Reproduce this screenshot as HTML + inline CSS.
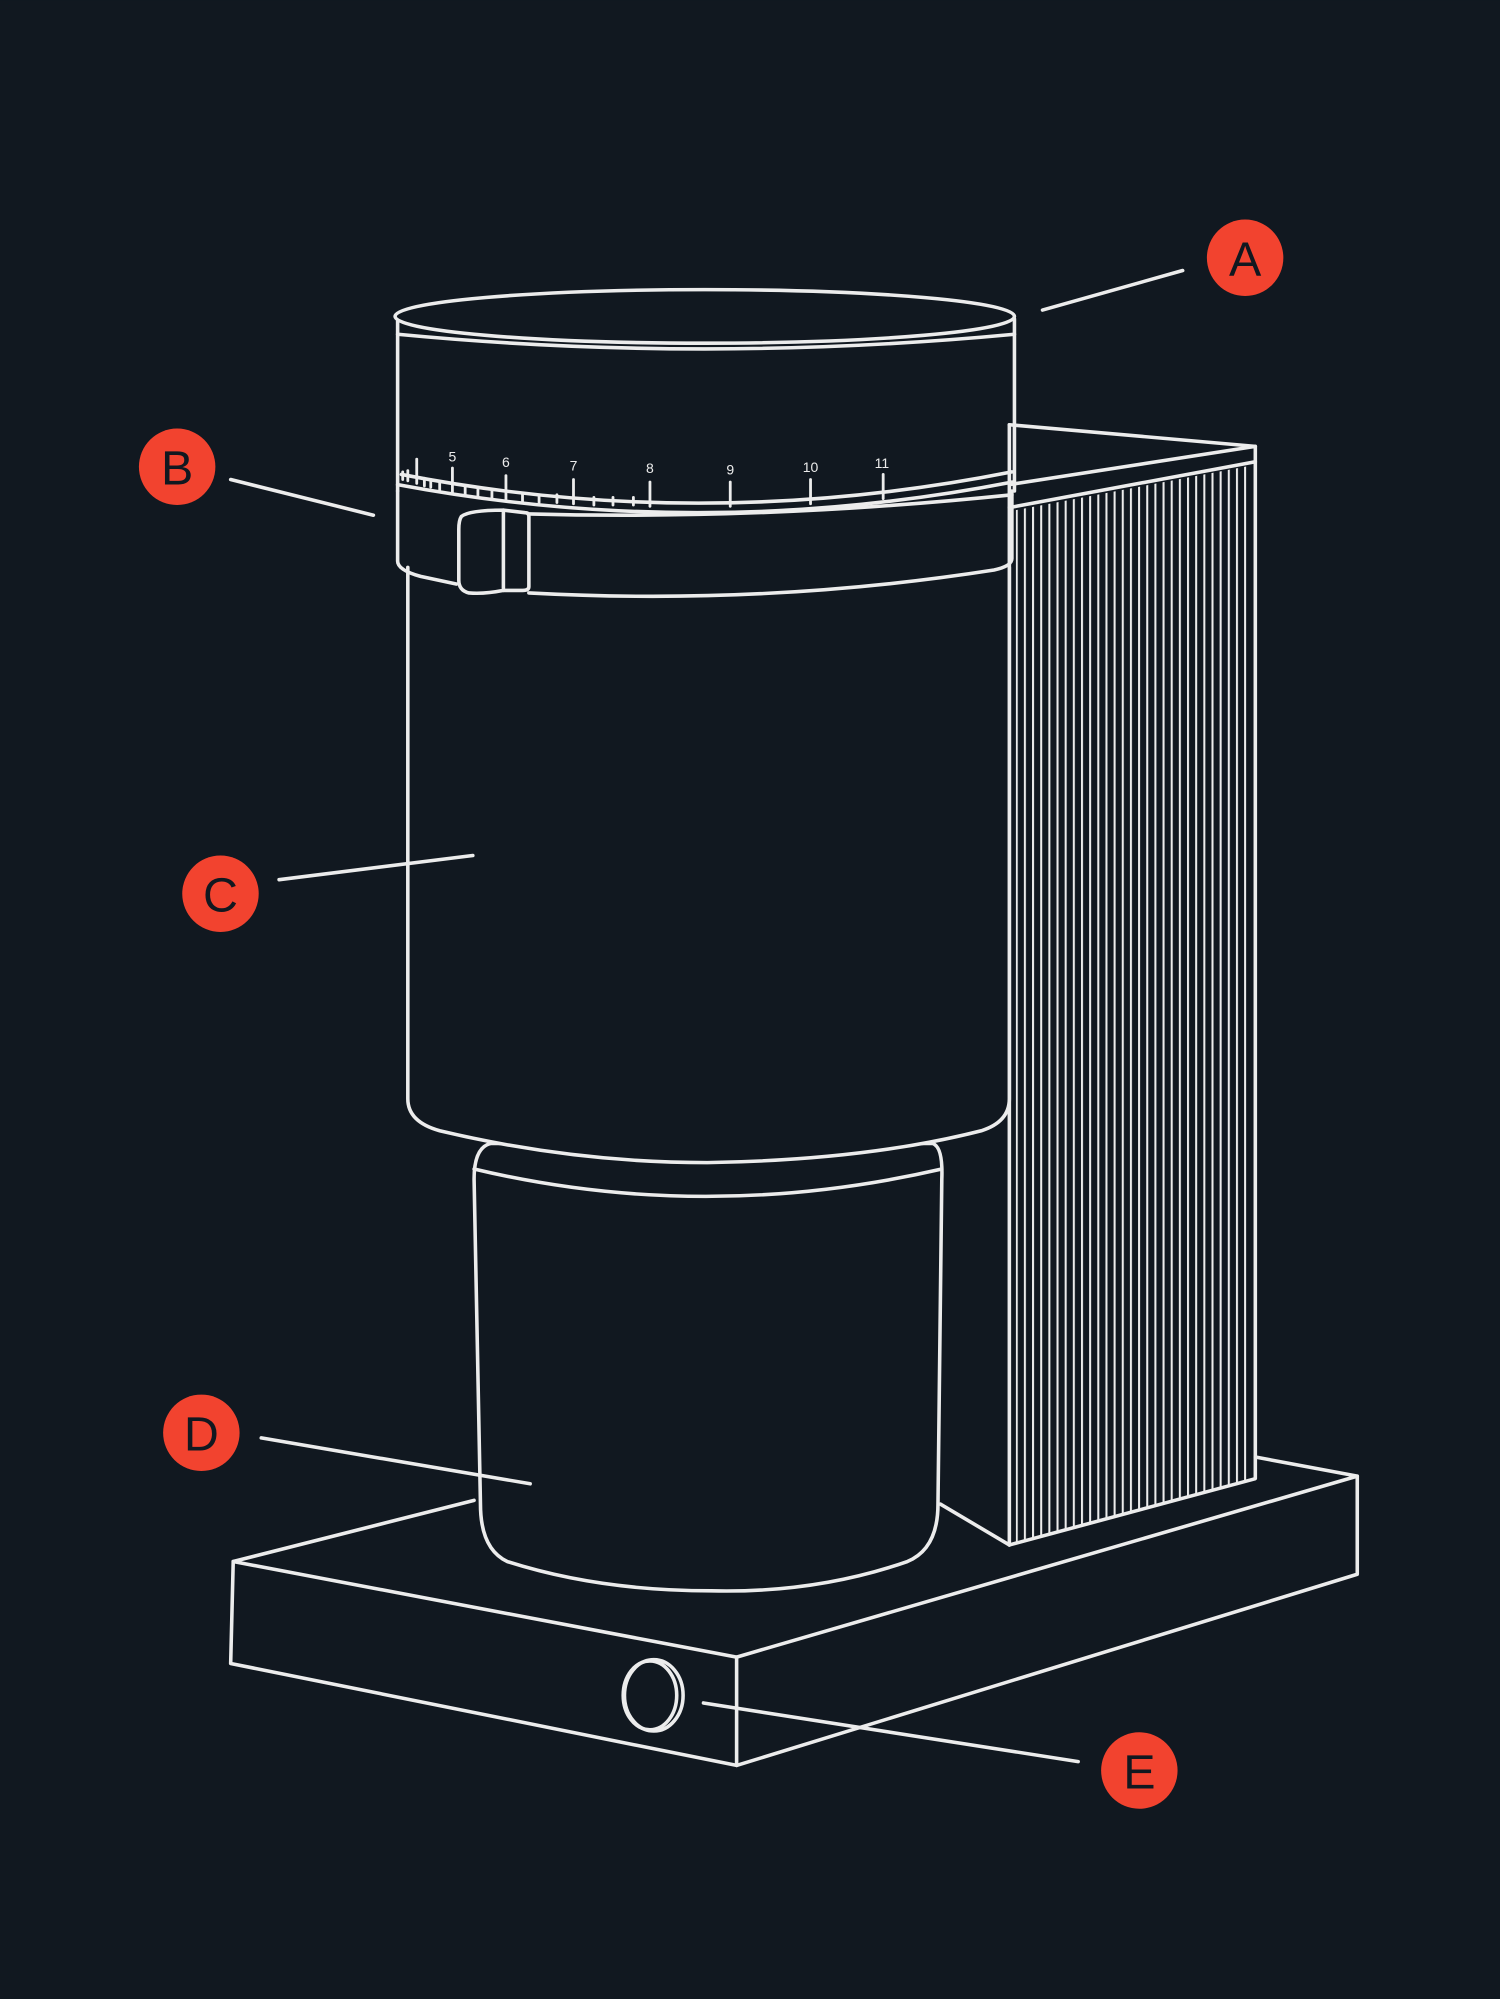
<!DOCTYPE html>
<html><head><meta charset="utf-8"><style>
html,body{margin:0;padding:0;background:#111820;}
svg{display:block}
</style></head><body>
<svg width="1500" height="1999" viewBox="0 0 1177 1568" xmlns="http://www.w3.org/2000/svg">
<defs>
<pattern id="st" patternUnits="userSpaceOnUse" x="797" y="0" width="6.4" height="10">
<rect x="0" y="0" width="1.6" height="10" fill="#ececec"/>
</pattern>
<clipPath id="tc"><polygon points="797,400 982,365 982,1160 797,1210"/></clipPath>
</defs>
<rect width="1177" height="1568" fill="#111820"/>
<g fill="none" stroke="#ececec" stroke-width="2.8" stroke-linejoin="round" stroke-linecap="round">
<!-- tower -->
<rect x="790" y="330" width="200" height="890" fill="url(#st)" stroke="none" clip-path="url(#tc)"/>
<polyline points="792,333 985,350 985,1160 792,1212"/>
<line x1="792" y1="380" x2="985" y2="350"/>
<line x1="792" y1="398" x2="985" y2="362"/>
<line x1="792" y1="333" x2="792" y2="1212"/>
<!-- base -->
<polyline points="372,1177 183,1225 578,1300 1065,1158 985,1143"/>
<polyline points="183,1225 181,1305 578,1385 1065,1235 1065,1158"/>
<line x1="578" y1="1300" x2="578" y2="1385"/>
<line x1="738" y1="1180" x2="792" y2="1212"/>
<ellipse cx="513" cy="1330" rx="23" ry="28"/>
<ellipse cx="510" cy="1330" rx="21" ry="27"/>
<!-- cup -->
<path d="M372,925 Q372,900 385,897 L732,897 Q740,900 739,925 L736,1180 Q736,1215 712,1225 Q640,1250 558,1248 Q470,1248 398,1225 Q377,1215 377,1180 Z" fill="#111820"/>
<path d="M372,917 Q552,960 739,917"/>
<!-- main body -->
<path d="M320,445 L320,862 Q320,880 345,887 Q450,912 555,912 Q680,910 770,887 Q792,880 792,862 L792,445" fill="#111820"/>
<!-- ring -->
<path d="M312,385 L312,440 Q312,447 330,452 L358,458"/>
<path d="M415,465 Q600,475 780,447 Q794,444 794,438 L794,385"/>
<path d="M312,380 Q552,425 794,378"/>
<path d="M315,372 Q552,418 794,370"/>
<path d="M415,403 Q600,408 794,388"/>
<path d="M362,405 Q368,400 395,400 L395,463 Q380,466 368,465 Q360,463 360,455 L360,415 Q360,408 362,405 Z"/>
<path d="M395,400 L412,402 Q415,402 415,405 L415,460 Q415,463 410,463 L395,463"/>
<!-- top -->
<path d="M312,250 L312,385 M796,250 L796,385"/>
<path d="M312,262 Q552,285 796,262"/>
<ellipse cx="553" cy="248" rx="243" ry="21" fill="#111820"/>
<!-- ticks -->
<g stroke-width="2.2">
<line x1="316" y1="376" x2="316" y2="370"/><line x1="320" y1="377" x2="320" y2="369"/>
<line x1="327" y1="379" x2="327" y2="360"/><line x1="333" y1="381" x2="333" y2="375"/>
<line x1="338" y1="382" x2="338" y2="376"/><line x1="345" y1="384" x2="345" y2="378"/>
<line x1="355" y1="386" x2="355" y2="367"/><line x1="365" y1="388" x2="365" y2="382"/>
<line x1="375" y1="390" x2="375" y2="384"/><line x1="386" y1="391" x2="386" y2="385"/>
<line x1="397" y1="392" x2="397" y2="373"/><line x1="410" y1="393" x2="410" y2="387"/>
<line x1="423" y1="394" x2="423" y2="388"/><line x1="437" y1="394" x2="437" y2="388"/>
<line x1="450" y1="395" x2="450" y2="376"/><line x1="466" y1="396" x2="466" y2="390"/>
<line x1="481" y1="396" x2="481" y2="390"/><line x1="497" y1="396" x2="497" y2="390"/>
<line x1="510" y1="397" x2="510" y2="378"/><line x1="573" y1="397" x2="573" y2="378"/>
<line x1="636" y1="395" x2="636" y2="376"/><line x1="693" y1="391" x2="693" y2="372"/>
</g>
<!-- leaders -->
<line x1="818" y1="243" x2="928" y2="212"/>
<line x1="181" y1="376" x2="293" y2="404"/>
<line x1="219" y1="690" x2="371" y2="671"/>
<line x1="205" y1="1128" x2="416" y2="1164"/>
<line x1="552" y1="1336" x2="846" y2="1382"/>
</g>
<g fill="#ececec" font-family="Liberation Sans, sans-serif" font-size="11" text-anchor="middle">
<text x="355" y="362">5</text><text x="397" y="366">6</text><text x="450" y="369">7</text>
<text x="510" y="371">8</text><text x="573" y="372">9</text><text x="636" y="370">10</text><text x="692" y="367">11</text>
</g>
<g fill="#f2432f">
<circle cx="977" cy="202" r="30"/><circle cx="139" cy="366" r="30"/><circle cx="173" cy="701" r="30"/>
<circle cx="158" cy="1124" r="30"/><circle cx="894" cy="1389" r="30"/>
</g>
<g fill="#111820" font-family="Liberation Sans, sans-serif" font-size="38" text-anchor="middle">
<text x="977" y="216">A</text><text x="139" y="380">B</text><text x="173" y="715">C</text>
<text x="158" y="1138">D</text><text x="894" y="1403">E</text>
</g>
</svg>
</body></html>
